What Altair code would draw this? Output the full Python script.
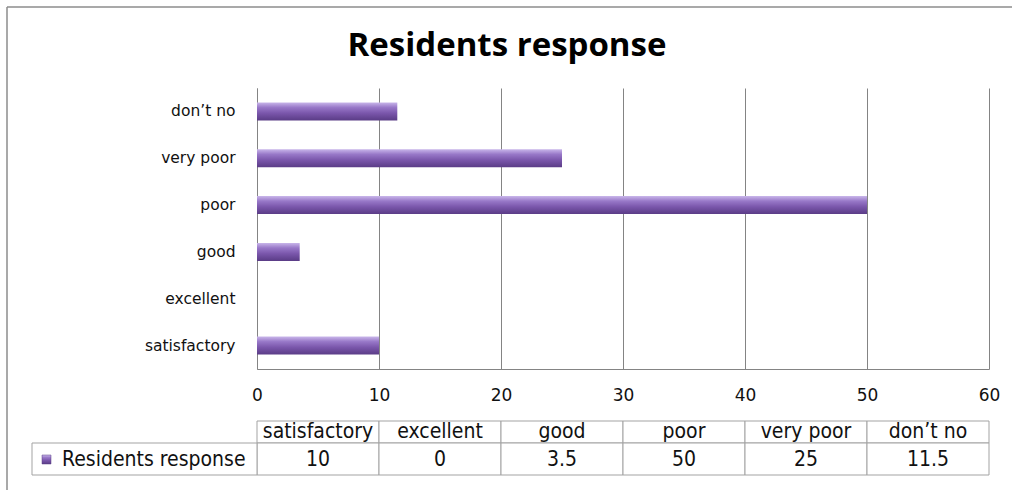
import altair as alt
import pandas as pd

# Survey categories (bottom-to-top on the chart) and their response values
categories = ["satisfactory", "excellent", "good", "poor", "very poor", "don’t no"]
values = [10, 0, 3.5, 50, 25, 11.5]
series_name = "Residents response"
chart_title = "Residents response"
x_ticks = [0, 10, 20, 30, 40, 50, 60]
x_max = 60
col_step = 10  # each data-table column spans one gridline interval

PLOT_W, PLOT_H = 732, 281
GRID = "#848484"
FRAME = "#8c8c8c"
TABLE_LINE = "#a3a3a3"
TEXT = "#111111"
LABEL_FONT = "DejaVu Sans"
TABLE_FONT = "DejaVu Sans Condensed, DejaVu Sans"
TITLE_FONT = "Open Sans"

bar_fill = alt.Gradient(
    gradient="linear",
    stops=[
        alt.GradientStop(color="#c9b6ea", offset=0),
        alt.GradientStop(color="#9878c8", offset=0.28),
        alt.GradientStop(color="#7a56ab", offset=0.6),
        alt.GradientStop(color="#5a3c86", offset=1),
    ],
    x1=0, x2=0, y1=0, y2=1,
)

bars_df = pd.DataFrame({"category": categories, "value": values})
table_df = pd.DataFrame({
    "category": categories,
    "label": [f"{v:g}" for v in values],
    "x0": [i * col_step for i in range(len(categories))],
    "x1": [(i + 1) * col_step for i in range(len(categories))],
    "xm": [i * col_step + col_step / 2 for i in range(len(categories))],
})
one_row = pd.DataFrame({"series": [series_name]})

bars = alt.Chart(bars_df).mark_bar(fill=bar_fill).encode(
    y=alt.Y(
        "category:N",
        sort=list(reversed(categories)),
        scale=alt.Scale(paddingInner=0.615, paddingOuter=0.3075),
        axis=alt.Axis(
            title=None, ticks=False, domainColor=GRID, labelFont=LABEL_FONT,
            labelFontSize=15.5, labelColor=TEXT, labelPadding=22, grid=False,
        ),
    ),
    x=alt.X(
        "value:Q",
        scale=alt.Scale(domain=[0, x_max], nice=False, zero=True),
        axis=alt.Axis(
            values=x_ticks, title=None, ticks=False, grid=True, gridColor=GRID,
            gridOpacity=1, domainColor=GRID, labelFont=LABEL_FONT,
            labelFontSize=17, labelColor=TEXT, labelPadding=18, format="d",
            labelFlush=False,
        ),
    ),
)

# Data table under the axis: header row of categories, then the values row
header_cells = alt.Chart(table_df).mark_rect(fill="white", stroke=TABLE_LINE, strokeWidth=1).encode(
    x=alt.X("x0:Q", axis=None), x2="x1:Q", y=alt.value(333), y2=alt.value(355)
)
value_cells = alt.Chart(table_df).mark_rect(fill="white", stroke=TABLE_LINE, strokeWidth=1).encode(
    x=alt.X("x0:Q", axis=None), x2="x1:Q", y=alt.value(355), y2=alt.value(387)
)
header_text = alt.Chart(table_df).mark_text(
    font=TABLE_FONT, fontSize=21, color=TEXT, align="center", baseline="middle"
).encode(x=alt.X("xm:Q", axis=None), y=alt.value(344), text="category:N")
value_text = alt.Chart(table_df).mark_text(
    font=TABLE_FONT, fontSize=21, color=TEXT, align="center", baseline="middle"
).encode(x=alt.X("xm:Q", axis=None), y=alt.value(372), text="label:N")

series_cell = alt.Chart(one_row).mark_rect(fill="white", stroke=TABLE_LINE, strokeWidth=1).encode(
    x=alt.value(-225), x2=alt.value(0), y=alt.value(355), y2=alt.value(387)
)
series_key = alt.Chart(one_row).mark_rect(fill=bar_fill, stroke="#5a3c86", strokeWidth=0.5).encode(
    x=alt.value(-215), x2=alt.value(-206), y=alt.value(367), y2=alt.value(376)
)
series_text = alt.Chart(one_row).mark_text(
    font=TABLE_FONT, fontSize=21, color=TEXT, align="left", baseline="middle"
).encode(x=alt.value(-195), y=alt.value(372), text="series:N")

# Title and the outer chart frame
title = alt.Chart(one_row).mark_text(
    font=TITLE_FONT, fontSize=33, fontWeight="bold", color="#000000",
    align="center", baseline="middle",
).encode(x=alt.value(250), y=alt.value(-42), text=alt.value(chart_title))
frame_top = alt.Chart(one_row).mark_rule(color=FRAME, strokeWidth=1.5).encode(
    x=alt.value(-250), x2=alt.value(755), y=alt.value(-81)
)
frame_left = alt.Chart(one_row).mark_rule(color=FRAME, strokeWidth=1.5).encode(
    x=alt.value(-250), y=alt.value(-81), y2=alt.value(402)
)

chart = alt.layer(
    frame_top, frame_left, title, bars,
    header_cells, value_cells, header_text, value_text,
    series_cell, series_key, series_text,
).resolve_axis(
    x="independent"
).properties(
    width=PLOT_W,
    height=PLOT_H,
    padding={"left": 6, "top": 6, "right": 0, "bottom": 0},
    background="white",
).configure_view(stroke=None)

chart.save("out.html", embed_options={"renderer": "svg", "actions": False})
